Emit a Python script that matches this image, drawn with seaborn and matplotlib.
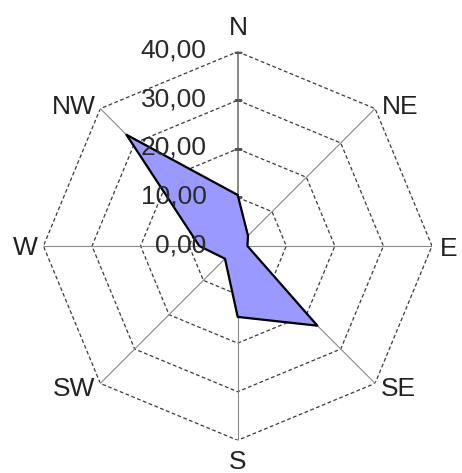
import numpy as np
import pandas as pd
import matplotlib
matplotlib.use("Agg")
import matplotlib.pyplot as plt
import seaborn as sns

# ---- data ----
directions = ["N", "NE", "E", "SE", "S", "SW", "W", "NW"]
values = [10.5, 3.0, 2.0, 23.2, 14.6, 3.7, 7.9, 32.4]
tick_values = [0, 10, 20, 30, 40]
tick_labels = ["0,00", "10,00", "20,00", "30,00", "40,00"]

sns.set_theme(style="white")
plt.rcParams["font.family"] = ["Liberation Sans", "DejaVu Sans"]

W, H = 462, 473
fig = plt.figure(figsize=(W / 100, H / 100), dpi=100)
fig.patch.set_facecolor("white")

cx, cy, R = 237.7, 246.0, 194.3  # pixel centre / outer radius (layout)
ax = fig.add_axes([(cx - R) / W, (H - cy - R) / H, 2 * R / W, 2 * R / H],
                  projection="polar")
ax.set_theta_zero_location("N")
ax.set_theta_direction(-1)
ax.set_ylim(0, tick_values[-1])
ax.grid(False)
ax.spines["polar"].set_visible(False)
ax.patch.set_alpha(0)

n = len(directions)
angles = np.deg2rad(np.arange(n) * 360.0 / n)
closed = np.append(angles, angles[0])

# octagonal dashed rings
for r in tick_values[1:]:
    ax.plot(closed, [r] * len(closed), color="#3a3a3a", lw=0.9,
            ls=(0, (3, 2)), zorder=1)
# spokes
for i, a in enumerate(angles):
    ax.plot([a, a], [0, tick_values[-1]], color="#8a8a8a" if i else "#6a6a6a",
            lw=0.8 if i else 1.1, zorder=1)
# tick marks on value axis
ax.plot([0] * len(tick_values), tick_values, ls="none", marker="_",
        ms=6, mew=1.0, color="#555555", zorder=2)

# data polygon
df = pd.DataFrame({"order": np.arange(n + 1), "angle": closed,
                   "value": values + values[:1]})
ax.fill(df["angle"], df["value"], color="#9999FF", zorder=3)
sns.lineplot(data=df, x="angle", y="value", sort=False, estimator=None,
             units="order", color="black", lw=1.6, ax=ax, zorder=4)
ax.plot(df["angle"], df["value"], color="black", lw=1.6, zorder=4)
ax.set_xlabel("")
ax.set_ylabel("")
ax.set_xticks([])
ax.set_yticks([])
ax.grid(False)
ax.set_ylim(0, tick_values[-1])

fs = 19
# value labels
for v, lab in zip(tick_values, tick_labels):
    ax.annotate(lab, xy=(0, v), xytext=(-31, 1), textcoords="offset pixels",
                ha="right", va="center", fontsize=fs, color="#2a2a2a",
                zorder=5)

# direction labels
offsets = {
    "N": ((1, 17), "center", "baseline"),
    "NE": ((7, -5), "left", "baseline"),
    "E": ((8, -10), "left", "baseline"),
    "SE": ((6, -13), "left", "baseline"),
    "S": ((0, -29), "center", "baseline"),
    "SW": ((-5, -13), "right", "baseline"),
    "W": ((-6, -9), "right", "baseline"),
    "NW": ((-5, -5), "right", "baseline"),
}
for a, d in zip(angles, directions):
    off, ha, va = offsets[d]
    ax.annotate(d, xy=(a, tick_values[-1]), xytext=off,
                textcoords="offset pixels", ha=ha, va=va, fontsize=fs,
                color="#222222", annotation_clip=False)

fig.savefig("out.png", dpi=100)
